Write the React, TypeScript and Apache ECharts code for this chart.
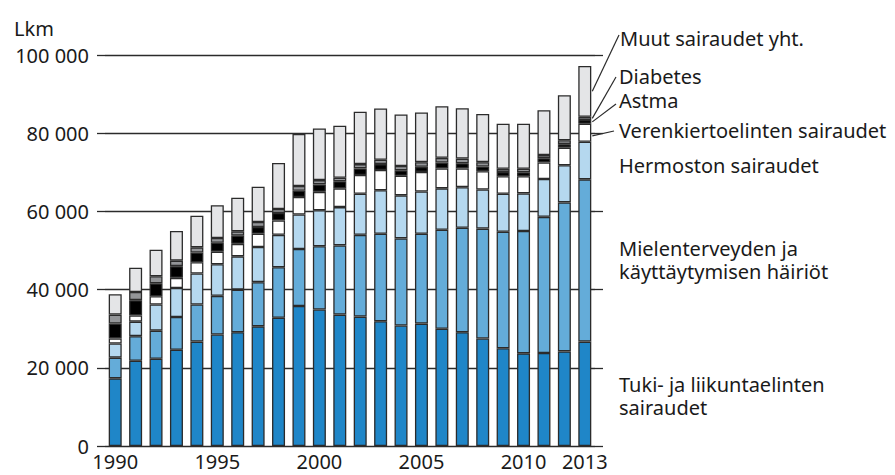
import React, { useEffect, useRef } from "react";
import * as echarts from "echarts";

const years = [
  "1990", "1991", "1992", "1993", "1994", "1995", "1996", "1997", "1998", "1999", "2000", "2001",
  "2002", "2003", "2004", "2005", "2006", "2007", "2008", "2009", "2010", "2011", "2012", "2013",
];
const tuki = [17300, 21800, 22300, 24600, 26700, 28500, 29100, 30600, 32800, 35800, 34900, 33600, 33100, 31900, 30800, 31300, 30000, 29100, 27500, 25000, 23700, 23800, 24200, 26700];
const mielen = [5300, 6300, 7200, 8400, 9500, 9900, 10900, 11300, 12900, 14600, 16200, 17700, 20900, 22400, 22300, 23000, 25300, 26700, 28100, 29800, 31300, 34800, 38100, 41500];
const hermo = [3600, 3700, 6700, 7400, 7900, 8100, 8500, 9000, 8300, 8800, 9200, 9800, 10500, 11100, 11000, 10800, 10600, 10400, 10000, 9700, 9600, 9700, 9500, 9600];
const veren = [1300, 1600, 2100, 2600, 2900, 3200, 3200, 3400, 3700, 4500, 4700, 4800, 4800, 5200, 5000, 5000, 5100, 4800, 4700, 4500, 4400, 4200, 4500, 4600];
const astma = [3800, 3900, 3300, 3000, 2500, 2300, 2100, 1700, 1900, 1600, 1900, 1800, 1700, 1500, 1400, 1300, 1500, 1300, 1200, 1100, 1000, 1100, 900, 1000];
const diab = [2300, 2100, 1800, 1400, 1300, 1200, 1100, 1300, 1000, 1200, 1100, 900, 1100, 1100, 1100, 1200, 1200, 1200, 1100, 800, 900, 800, 1000, 800];
const muut = [5200, 6200, 6800, 7600, 8100, 8400, 8600, 9000, 11800, 13300, 13200, 13300, 13400, 13100, 13200, 12700, 13200, 12900, 12300, 11500, 11500, 11500, 11500, 13000];

const shownYears = ["1990", "1995", "2000", "2005", "2010", "2013"];

const FONT = '"Noto Sans", sans-serif';
const TXT = "#1a1a1a";
const LINE = "#2b2b2b";
const BAR_W = 13;

const fmt = (v: number) => String(v).replace(/\B(?=(\d{3})+(?!\d))/g, " ");

export default function App() {
  const ref = useRef<HTMLDivElement>(null);
  useEffect(() => {
    const chart = echarts.init(ref.current!, null, { renderer: "svg" });
    const mk = (name: string, data: number[], color: string) => ({
      name,
      type: "bar",
      stack: "total",
      data,
      barWidth: BAR_W,
      itemStyle: { color, borderColor: LINE, borderWidth: 1.3 },
      emphasis: { disabled: true },
    });
    const yCommon = {
      type: "value",
      min: 0,
      max: 100000,
      interval: 20000,
      axisLine: { show: false },
    };
    chart.setOption({
      animation: false,
      textStyle: { fontFamily: FONT },
      title: {
        text: "Lkm",
        left: 9,
        top: 13,
        textStyle: { fontFamily: FONT, fontSize: 20, fontWeight: "normal", color: TXT },
      },
      grid: { left: 105, right: 300, top: 55, bottom: 29, containLabel: false },
      xAxis: {
        type: "category",
        data: years,
        axisLine: { show: false },
        axisTick: { show: false },
        axisLabel: {
          interval: 0,
          margin: 5,
          fontSize: 20,
          lineHeight: 20,
          color: TXT,
          fontFamily: FONT,
          formatter: (v: string) => (shownYears.includes(v) ? v : ""),
        },
      },
      yAxis: [
        {
          ...yCommon,
          position: "left",
          axisTick: { show: true, length: 8, lineStyle: { color: LINE, width: 1.3 } },
          axisLabel: { margin: 16, fontSize: 20, color: TXT, fontFamily: FONT, formatter: fmt },
          splitLine: { show: true, lineStyle: { color: LINE, width: 1.3 } },
        },
        {
          ...yCommon,
          position: "right",
          axisTick: { show: true, length: 8, lineStyle: { color: LINE, width: 1.3 } },
          axisLabel: { show: false },
          splitLine: { show: false },
        },
      ],
      series: [
        mk("Tuki- ja liikuntaelinten sairaudet", tuki, "#1f86c8"),
        mk("Mielenterveyden ja käyttäytymisen häiriöt", mielen, "#64acd9"),
        mk("Hermoston sairaudet", hermo, "#b5d8ef"),
        mk("Verenkiertoelinten sairaudet", veren, "#ffffff"),
        mk("Astma", astma, "#000000"),
        mk("Diabetes", diab, "#939598"),
        mk("Muut sairaudet yht.", muut, "#e4e5e7"),
      ],
    });

    // leader lines to the last bar's segments
    const i = years.length - 1;
    const base = tuki[i] + mielen[i] + hermo[i];
    const vMid = base + veren[i] * 0.5;
    const aMid = base + veren[i] + astma[i] * 0.5;
    const dMid = base + veren[i] + astma[i] + diab[i] * 0.5;
    const mMid = base + veren[i] + astma[i] + diab[i] + muut[i] * 0.5;
    const p = (v: number) => chart.convertToPixel({ gridIndex: 0 }, [i, v]) as number[];
    const ex = (p(0)[0] as number) + BAR_W / 2 + 1;
    const lineStyle = { stroke: LINE, lineWidth: 1.2 };
    const lbl = (text: string, x: number, y: number, lh = 23) => ({
      type: "text",
      x,
      y,
      style: {
        text,
        fill: TXT,
        font: `20px ${FONT}`,
        lineHeight: lh,
        verticalAlign: "middle",
        align: "left",
      },
    });
    chart.setOption({
      graphic: [
        { type: "line", shape: { x1: 619, y1: 35, x2: ex, y2: p(mMid)[1] }, style: lineStyle },
        { type: "line", shape: { x1: 616, y1: 77, x2: ex, y2: p(dMid)[1] }, style: lineStyle },
        { type: "line", shape: { x1: 616, y1: 104, x2: ex, y2: p(aMid)[1] }, style: lineStyle },
        { type: "line", shape: { x1: 614, y1: 131, x2: ex, y2: p(vMid)[1] + 3 }, style: lineStyle },
        lbl("Muut sairaudet yht.", 620, 38),
        lbl("Diabetes\nAstma", 619, 88, 24),
        lbl("Verenkiertoelinten sairaudet", 619, 130),
        lbl("Hermoston sairaudet", 619, 165),
        lbl("Mielenterveyden ja\nkäyttäytymisen häiriöt", 619, 259.5),
        lbl("Tuki- ja liikuntaelinten\nsairaudet", 619, 395.5),
      ],
    });
    return () => chart.dispose();
  }, []);
  return (
    <div
      ref={ref}
      style={{ position: "fixed", left: 0, top: 0, width: 895, height: 475, background: "#fff" }}
    />
  );
}
